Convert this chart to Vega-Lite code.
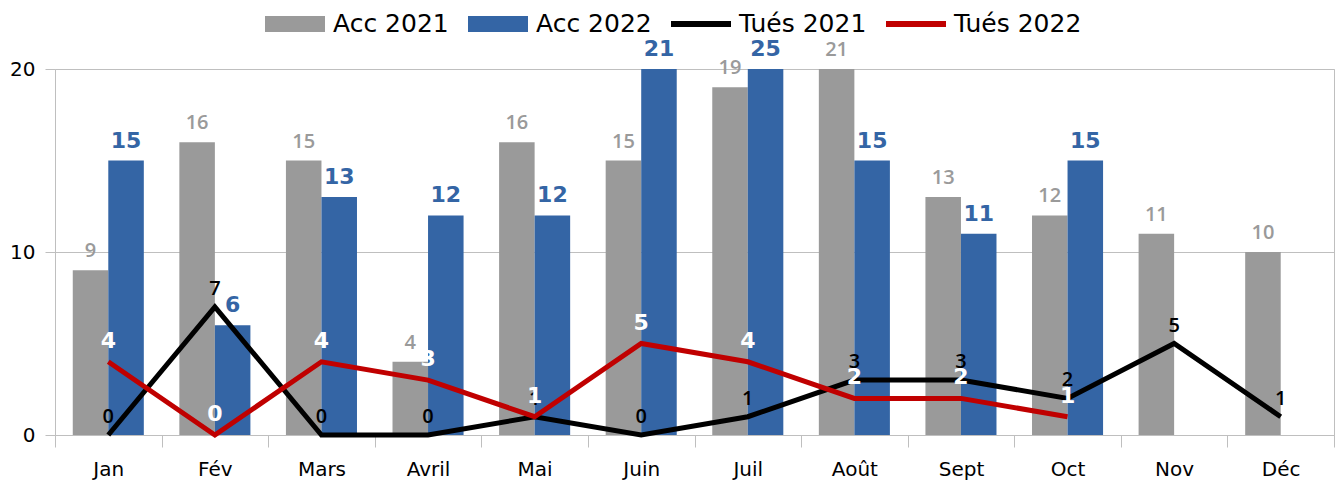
{
  "$schema": "https://vega.github.io/schema/vega-lite/v6.json",
  "width": 1279,
  "height": 366,
  "autosize": {"type": "none"},
  "padding": {"left": 55, "top": 69, "right": 4, "bottom": 48},
  "background": "white",
  "config": {
    "font": "DejaVu Sans",
    "view": {"stroke": "#bfbfbf", "strokeWidth": 1}
  },
  "data": {
    "values": [
      {"mois": "Jan", "serie": "Acc 2021", "valeur": 9},
      {"mois": "Fév", "serie": "Acc 2021", "valeur": 16},
      {"mois": "Mars", "serie": "Acc 2021", "valeur": 15},
      {"mois": "Avril", "serie": "Acc 2021", "valeur": 4},
      {"mois": "Mai", "serie": "Acc 2021", "valeur": 16},
      {"mois": "Juin", "serie": "Acc 2021", "valeur": 15},
      {"mois": "Juil", "serie": "Acc 2021", "valeur": 19},
      {"mois": "Août", "serie": "Acc 2021", "valeur": 21},
      {"mois": "Sept", "serie": "Acc 2021", "valeur": 13},
      {"mois": "Oct", "serie": "Acc 2021", "valeur": 12},
      {"mois": "Nov", "serie": "Acc 2021", "valeur": 11},
      {"mois": "Déc", "serie": "Acc 2021", "valeur": 10},
      {"mois": "Jan", "serie": "Acc 2022", "valeur": 15},
      {"mois": "Fév", "serie": "Acc 2022", "valeur": 6},
      {"mois": "Mars", "serie": "Acc 2022", "valeur": 13},
      {"mois": "Avril", "serie": "Acc 2022", "valeur": 12},
      {"mois": "Mai", "serie": "Acc 2022", "valeur": 12},
      {"mois": "Juin", "serie": "Acc 2022", "valeur": 21},
      {"mois": "Juil", "serie": "Acc 2022", "valeur": 25},
      {"mois": "Août", "serie": "Acc 2022", "valeur": 15},
      {"mois": "Sept", "serie": "Acc 2022", "valeur": 11},
      {"mois": "Oct", "serie": "Acc 2022", "valeur": 15},
      {"mois": "Jan", "serie": "Tués 2021", "valeur": 0},
      {"mois": "Fév", "serie": "Tués 2021", "valeur": 7},
      {"mois": "Mars", "serie": "Tués 2021", "valeur": 0},
      {"mois": "Avril", "serie": "Tués 2021", "valeur": 0},
      {"mois": "Mai", "serie": "Tués 2021", "valeur": 1},
      {"mois": "Juin", "serie": "Tués 2021", "valeur": 0},
      {"mois": "Juil", "serie": "Tués 2021", "valeur": 1},
      {"mois": "Août", "serie": "Tués 2021", "valeur": 3},
      {"mois": "Sept", "serie": "Tués 2021", "valeur": 3},
      {"mois": "Oct", "serie": "Tués 2021", "valeur": 2},
      {"mois": "Nov", "serie": "Tués 2021", "valeur": 5},
      {"mois": "Déc", "serie": "Tués 2021", "valeur": 1},
      {"mois": "Jan", "serie": "Tués 2022", "valeur": 4},
      {"mois": "Fév", "serie": "Tués 2022", "valeur": 0},
      {"mois": "Mars", "serie": "Tués 2022", "valeur": 4},
      {"mois": "Avril", "serie": "Tués 2022", "valeur": 3},
      {"mois": "Mai", "serie": "Tués 2022", "valeur": 1},
      {"mois": "Juin", "serie": "Tués 2022", "valeur": 5},
      {"mois": "Juil", "serie": "Tués 2022", "valeur": 4},
      {"mois": "Août", "serie": "Tués 2022", "valeur": 2},
      {"mois": "Sept", "serie": "Tués 2022", "valeur": 2},
      {"mois": "Oct", "serie": "Tués 2022", "valeur": 1}
    ]
  },
  "encoding": {
    "x": {
      "field": "mois",
      "type": "nominal",
      "sort": ["Jan", "Fév", "Mars", "Avril", "Mai", "Juin", "Juil", "Août", "Sept", "Oct", "Nov", "Déc"],
      "scale": {"paddingInner": 0, "paddingOuter": 0},
      "axis": {
        "title": null,
        "labelAngle": 0,
        "tickBand": "extent",
        "tickSize": 12,
        "tickColor": "#bfbfbf",
        "domainColor": "#bfbfbf",
        "labelFont": "DejaVu Sans",
        "labelFontSize": 20,
        "labelColor": "#000000",
        "labelPadding": 12,
        "grid": false
      }
    },
    "y": {
      "field": "valeur",
      "type": "quantitative",
      "scale": {"domain": [0, 20], "clamp": true, "nice": false},
      "axis": {
        "title": null,
        "values": [0, 10, 20],
        "grid": true,
        "gridColor": "#bfbfbf",
        "domain": false,
        "tickColor": "#bfbfbf",
        "tickSize": 10,
        "labelFont": "DejaVu Sans",
        "labelFontSize": 20,
        "labelColor": "#000000",
        "labelPadding": 10
      }
    }
  },
  "layer": [
    {
      "transform": [{"filter": "indexof(datum.serie, 'Acc') === 0"}],
      "mark": {"type": "bar"},
      "encoding": {
        "xOffset": {"field": "serie", "type": "nominal", "scale": {"domain": ["Acc 2021", "Acc 2022"], "paddingInner": 0, "paddingOuter": 0.5}},
        "color": {
          "field": "serie",
          "type": "nominal",
          "scale": {"domain": ["Acc 2021", "Acc 2022", "Tués 2021", "Tués 2022"], "range": ["#9a9a9a", "#3465a5", "#000000", "#c00000"]},
          "legend": {
            "title": null,
            "orient": "none",
            "legendX": 210,
            "legendY": -75,
            "direction": "horizontal",
            "symbolSize": 3600,
            "labelFont": "DejaVu Sans",
            "labelFontSize": 25,
            "labelColor": "#000000",
            "labelOffset": 8,
            "columnPadding": 19,
            "symbolStrokeWidth": 0,
            "encode": {
              "symbols": {
                "update": {
                  "shape": {"signal": "indexof(datum.value, 'Tués') === 0 ? 'M-1,-0.1H1V0.1H-1Z' : 'M-1,-0.27H1V0.27H-1Z'"},
                  "fill": {"scale": "color", "field": "value"},
                  "stroke": {"value": "transparent"},
                  "strokeWidth": {"value": 0},
                  "opacity": {"value": 1}
                }
              }
            }
          }
        }
      }
    },
    {
      "transform": [{"filter": "indexof(datum.serie, 'Tués') === 0"}],
      "mark": {"type": "line", "strokeWidth": 5},
      "encoding": {
        "color": {"field": "serie", "type": "nominal"}
      }
    },
    {
      "transform": [{"filter": "datum.serie === 'Acc 2021'"}],
      "mark": {"type": "text", "fill": "#9a9a9a", "font": "Open Sans", "fontSize": 20, "fontWeight": 600, "baseline": "alphabetic", "dy": -13},
      "encoding": {
        "xOffset": {"field": "serie", "type": "nominal"},
        "text": {"field": "valeur", "type": "quantitative"}
      }
    },
    {
      "transform": [{"filter": "datum.serie === 'Acc 2022'"}],
      "mark": {"type": "text", "fill": "#3465a5", "fontSize": 22, "fontWeight": "bold", "baseline": "alphabetic", "dy": -13},
      "encoding": {
        "xOffset": {"field": "serie", "type": "nominal"},
        "text": {"field": "valeur", "type": "quantitative"}
      }
    },
    {
      "transform": [{"filter": "datum.serie === 'Tués 2021'"}],
      "mark": {"type": "text", "fill": "#000000", "font": "Open Sans", "fontSize": 20, "fontWeight": 600, "baseline": "alphabetic", "dy": -12},
      "encoding": {
        "text": {"field": "valeur", "type": "quantitative"}
      }
    },
    {
      "transform": [{"filter": "datum.serie === 'Tués 2022'"}],
      "mark": {"type": "text", "fill": "#ffffff", "fontSize": 22, "fontWeight": "bold", "baseline": "alphabetic", "dy": -14},
      "encoding": {
        "text": {"field": "valeur", "type": "quantitative"}
      }
    }
  ]
}
